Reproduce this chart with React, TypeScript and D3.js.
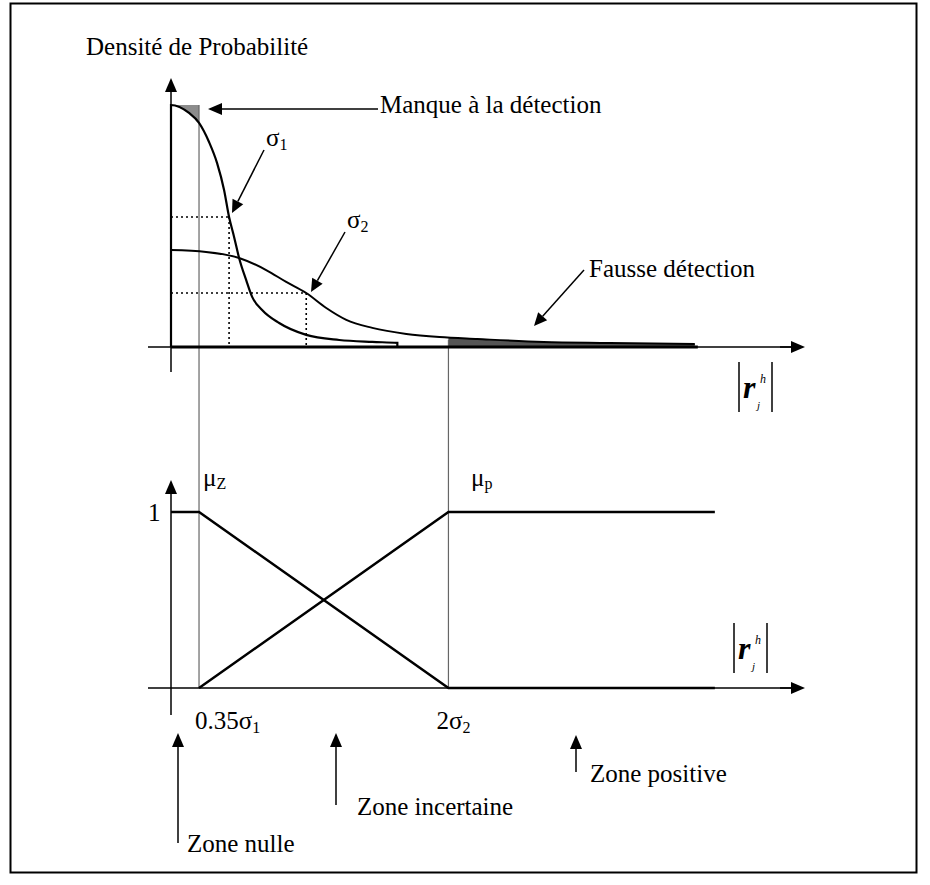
import React from 'react'
import * as d3 from 'd3'

// density curves (r in arbitrary units, density normalised to peak = 1)
const sigma1R = [0, 0.284, 0.442, 0.6, 0.727, 0.837, 0.916, 0.995, 1.074, 1.185, 1.28, 1.437, 1.706, 2.133, 2.654, 3.175, 3.57]
const sigma1D = [1, 0.967, 0.926, 0.847, 0.76, 0.649, 0.537, 0.455, 0.368, 0.277, 0.207, 0.153, 0.099, 0.05, 0.029, 0.021, 0.017]
const sigma2R = [0, 0.553, 1.074, 1.501, 1.817, 2.133, 2.449, 2.765, 3.175, 3.712, 4.234, 4.834, 5.877, 6.919, 8.262]
const sigma2D = [0.401, 0.393, 0.368, 0.318, 0.269, 0.223, 0.161, 0.112, 0.079, 0.054, 0.041, 0.033, 0.021, 0.017, 0.012]

// dotted guides on each curve
const dottedR = [0.916, 2.133]
const dottedD = [0.537, 0.223]

// thresholds 0.35σ1 and 2σ2
const thresholds = [0.442, 4.376]
const tailEnd = 8.578

// membership functions
const muZr = [0, thresholds[0], thresholds[1], tailEnd]
const muZv = [1, 1, 0, 0]
const muPr = [thresholds[0], thresholds[1], tailEnd]
const muPv = [0, 1, 1]

const FONT = '"Liberation Serif", "Times New Roman", serif'
const FS = 25

type Pt = [number, number]

const Arrow = ({ from, to, head = 14, half = 6, width = 1.5 }: { from: Pt; to: Pt; head?: number; half?: number; width?: number }) => {
    const dx = to[0] - from[0]
    const dy = to[1] - from[1]
    const len = Math.sqrt(dx * dx + dy * dy)
    const ux = dx / len
    const uy = dy / len
    const bx = to[0] - ux * head
    const by = to[1] - uy * head
    const pts = [
        [to[0], to[1]],
        [bx - uy * half, by + ux * half],
        [bx + uy * half, by - ux * half],
    ].map(p => p.join(',')).join(' ')
    return (
        <g>
            <line x1={from[0]} y1={from[1]} x2={bx} y2={by} stroke="black" strokeWidth={width} />
            <polygon points={pts} fill="black" />
        </g>
    )
}

const RLabel = ({ x, y }: { x: number; y: number }) => (
    <g fontFamily={FONT}>
        <line x1={x} y1={y} x2={x} y2={y + 50} stroke="black" strokeWidth={1.5} />
        <line x1={x + 33} y1={y} x2={x + 33} y2={y + 50} stroke="black" strokeWidth={1.5} />
        <text x={x + 4} y={y + 36} fontSize={32} fontStyle="italic" fontWeight="bold">r</text>
        <text x={x + 21} y={y + 21} fontSize={12} fontStyle="italic">h</text>
        <text x={x + 18} y={y + 47} fontSize={11} fontStyle="italic">j</text>
    </g>
)

export default function App() {
    const width = 930
    const height = 885

    const xScale = d3.scaleLinear().domain([0, 10]).range([171, 805])
    const yTop = d3.scaleLinear().domain([0, 1]).range([347, 105])
    const yBot = d3.scaleLinear().domain([0, 1]).range([688, 512])

    const s1 = sigma1R.map((r, i) => [r, sigma1D[i]] as Pt)
    const s2 = sigma2R.map((r, i) => [r, sigma2D[i]] as Pt)

    const line = d3.line<Pt>().x(d => xScale(d[0])).y(d => yTop(d[1])).curve(d3.curveMonotoneX)
    const s1Path = line([[0, 0], ...s1, [sigma1R[sigma1R.length - 1], 0]] as Pt[]) || ''
    const s2Path = line(s2) || ''

    // gray area above σ1 up to the peak, left of 0.35σ1
    const missArea = d3.area<Pt>().x(d => xScale(d[0])).y0(yTop(1)).y1(d => yTop(d[1])).curve(d3.curveMonotoneX)(s1) || ''
    // gray tail under σ2 right of 2σ2
    const falseArea = d3.area<Pt>().x(d => xScale(d[0])).y0(yTop(0)).y1(d => yTop(d[1])).curve(d3.curveMonotoneX)(s2) || ''

    const lineBot = d3.line<Pt>().x(d => xScale(d[0])).y(d => yBot(d[1]))
    const muZ = lineBot(muZr.map((r, i) => [r, muZv[i]] as Pt)) || ''
    const muP = lineBot(muPr.map((r, i) => [r, muPv[i]] as Pt)) || ''

    const x0 = xScale(0)
    const t1 = xScale(thresholds[0])
    const t2 = xScale(thresholds[1])
    const s2End = xScale(sigma2R[sigma2R.length - 1])

    return (
        <div style={{ position: 'absolute', left: 0, top: 0 }}>
            <svg width={width} height={height} style={{ display: 'block', background: 'white' }}>
                <defs>
                    <clipPath id="missClip">
                        <rect x={x0} y={0} width={t1 - x0} height={400} />
                    </clipPath>
                    <clipPath id="falseClip">
                        <rect x={t2} y={0} width={400} height={400} />
                    </clipPath>
                </defs>
                <rect x={10.5} y={3.5} width={906} height={869} fill="none" stroke="black" strokeWidth={2} />

                {/* top: probability density */}
                <text x={86} y={55} fontFamily={FONT} fontSize={FS}>Densité de Probabilité</text>

                <path d={missArea} clipPath="url(#missClip)" fill="#8c8c8c" />
                <path d={falseArea} clipPath="url(#falseClip)" fill="#555" />

                {/* threshold guide lines */}
                <line x1={t1} y1={yTop(1)} x2={t1} y2={yBot(0)} stroke="#666" strokeWidth={1.2} />
                <line x1={t2} y1={yTop(0.03)} x2={t2} y2={yBot(0)} stroke="#666" strokeWidth={1.2} />

                {/* dotted guides */}
                {dottedR.map((r, i) => (
                    <g key={i} stroke="black" strokeWidth={1.6} strokeDasharray="2,3">
                        <line x1={x0} y1={yTop(dottedD[i])} x2={xScale(r)} y2={yTop(dottedD[i])} />
                        <line x1={xScale(r)} y1={yTop(dottedD[i])} x2={xScale(r)} y2={yTop(0)} />
                    </g>
                ))}

                {/* axes */}
                <line x1={148} y1={yTop(0)} x2={792} y2={yTop(0)} stroke="black" strokeWidth={1.5} />
                <Arrow from={[780, yTop(0)]} to={[805, yTop(0)]} />
                <Arrow from={[x0, 372]} to={[x0, 78]} />
                <line x1={x0} y1={yTop(0)} x2={s2End + 3} y2={yTop(0)} stroke="black" strokeWidth={3} />

                <path d={s1Path} fill="none" stroke="black" strokeWidth={2.2} />
                <path d={s2Path} fill="none" stroke="black" strokeWidth={2} />

                {/* annotations */}
                <Arrow from={[378, 109]} to={[208, 109]} />
                <text x={380} y={113} fontFamily={FONT} fontSize={FS}>Manque à la détection</text>

                <Arrow from={[264, 150]} to={[232, 213]} head={13} />
                <text x={266} y={146} fontFamily={FONT} fontSize={FS}>σ<tspan fontSize={16} dy={4}>1</tspan></text>

                <Arrow from={[345, 232]} to={[311, 292]} head={13} />
                <text x={347} y={228} fontFamily={FONT} fontSize={FS}>σ<tspan fontSize={16} dy={4}>2</tspan></text>

                <Arrow from={[584, 270]} to={[534, 326]} head={13} />
                <text x={589} y={277} fontFamily={FONT} fontSize={FS}>Fausse détection</text>

                <RLabel x={739} y={362} />

                {/* bottom: membership functions */}
                <line x1={148} y1={yBot(0)} x2={792} y2={yBot(0)} stroke="black" strokeWidth={1.5} />
                <Arrow from={[780, yBot(0)]} to={[805, yBot(0)]} />
                <Arrow from={[x0, 715]} to={[x0, 480]} />

                <path d={muZ} fill="none" stroke="black" strokeWidth={2.5} />
                <path d={muP} fill="none" stroke="black" strokeWidth={2.5} />

                <text x={148} y={521} fontFamily={FONT} fontSize={FS}>1</text>
                <text x={203} y={486} fontFamily={FONT} fontSize={FS}>μ<tspan fontSize={16} dy={3}>Z</tspan></text>
                <text x={471} y={486} fontFamily={FONT} fontSize={FS}>μ<tspan fontSize={16} dy={3}>p</tspan></text>

                <RLabel x={734} y={623} />

                <text x={t1 - 4} y={729} fontFamily={FONT} fontSize={FS}>0.35σ<tspan fontSize={16} dy={4}>1</tspan></text>
                <text x={t2 - 12} y={729} fontFamily={FONT} fontSize={FS}>2σ<tspan fontSize={16} dy={4}>2</tspan></text>

                {/* zones */}
                <Arrow from={[178, 843]} to={[178, 733]} head={14} half={6} />
                <text x={187} y={852} fontFamily={FONT} fontSize={FS}>Zone nulle</text>
                <Arrow from={[336, 805]} to={[336, 733]} head={14} half={6} />
                <text x={357} y={815} fontFamily={FONT} fontSize={FS}>Zone incertaine</text>
                <Arrow from={[576, 772]} to={[576, 735]} head={14} half={6} />
                <text x={590} y={782} fontFamily={FONT} fontSize={FS}>Zone positive</text>
            </svg>
        </div>
    )
}
